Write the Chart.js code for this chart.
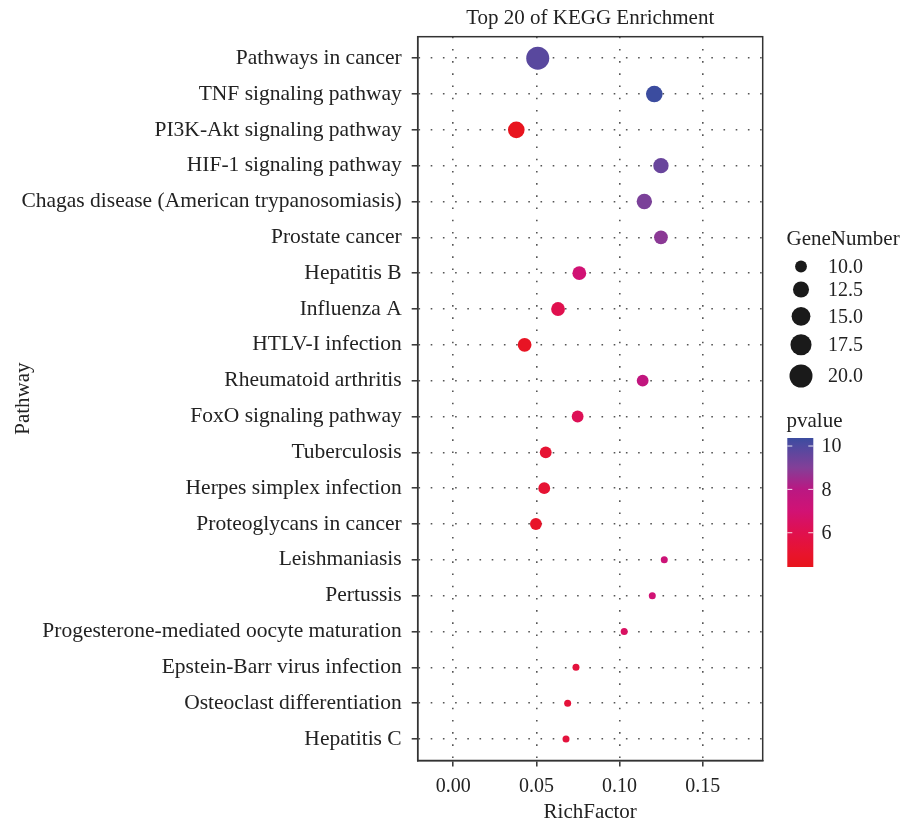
<!DOCTYPE html>
<html><head><meta charset="utf-8">
<script src="https://cdn.jsdelivr.net/npm/chart.js@4.4.1/dist/chart.umd.min.js"></script>
<style>html,body{margin:0;padding:0;background:#fff}canvas{display:block}</style>
</head><body>
<canvas id="c" width="906" height="827"></canvas>
<script>
const pathways = [
  "Pathways in cancer",
  "TNF signaling pathway",
  "PI3K-Akt signaling pathway",
  "HIF-1 signaling pathway",
  "Chagas disease (American trypanosomiasis)",
  "Prostate cancer",
  "Hepatitis B",
  "Influenza A",
  "HTLV-I infection",
  "Rheumatoid arthritis",
  "FoxO signaling pathway",
  "Tuberculosis",
  "Herpes simplex infection",
  "Proteoglycans in cancer",
  "Leishmaniasis",
  "Pertussis",
  "Progesterone-mediated oocyte maturation",
  "Epstein-Barr virus infection",
  "Osteoclast differentiation",
  "Hepatitis C"
];
const richFactor = [0.0508, 0.1209, 0.0379, 0.1249, 0.1149, 0.1249, 0.0758, 0.0630, 0.0429, 0.1139,
                    0.0748, 0.0556, 0.0547, 0.0497, 0.1269, 0.1197, 0.1028, 0.0738, 0.0688, 0.0678];
const geneNumber = [20, 13, 13, 12, 12, 11, 11, 11, 11, 10,
                    10, 10, 10, 10, 9, 9, 9, 9, 9, 9];
const pvalue = [9.8, 10.37, 4.5, 9.5, 9.15, 8.85, 7.0, 6.0, 4.7, 7.7,
                6.2, 5.2, 5.2, 4.9, 7.2, 7.0, 6.5, 5.5, 5.4, 5.5];
const xTicks = [0, 0.05, 0.10, 0.15];
const sizeLegendValues = [10, 12.5, 15, 17.5, 20];
const colorbarTicks = [6, 8, 10];
const pvalueRange = [4.42, 10.37];
const geneRange = [9, 20];

// colour gradient stops (pvalue -> colour)
const colorStops = [
  [4.42, [232, 20, 28]],
  [5.0, [232, 20, 44]],
  [6.0, [224, 16, 78]],
  [7.0, [209, 18, 116]],
  [8.0, [186, 24, 130]],
  [9.0, [131, 63, 152]],
  [10.0, [79, 74, 160]],
  [10.37, [59, 76, 159]]
];
function pColor(v) {
  if (v <= colorStops[0][0]) return 'rgb(' + colorStops[0][1].join(',') + ')';
  for (let i = 1; i < colorStops.length; i++) {
    const [v1, c1] = colorStops[i];
    const [v0, c0] = colorStops[i - 1];
    if (v <= v1) {
      const t = (v - v0) / (v1 - v0);
      const c = c0.map((a, k) => Math.round(a + (c1[k] - a) * t));
      return 'rgb(' + c.join(',') + ')';
    }
  }
  return 'rgb(' + colorStops[colorStops.length - 1][1].join(',') + ')';
}
function sizeR(v) {
  const t = Math.max(0, (v - geneRange[0]) / (geneRange[1] - geneRange[0]));
  return 3.5 + 8 * Math.sqrt(t);
}

const FONT = '"Liberation Serif", "DejaVu Serif", serif';
const TXT = '#222';
Chart.defaults.font.family = FONT;
Chart.defaults.color = TXT;

const extras = {
  id: 'extras',
  afterDraw(chart) {
    const ctx = chart.ctx;
    const a = chart.chartArea;
    ctx.save();
    // panel border
    ctx.strokeStyle = '#333';
    ctx.lineWidth = 1.5;
    ctx.strokeRect(a.left, a.top, a.right - a.left, a.bottom - a.top);
    ctx.fillStyle = TXT;
    // title
    ctx.font = '21px ' + FONT;
    ctx.textAlign = 'center';
    ctx.textBaseline = 'alphabetic';
    ctx.fillText('Top 20 of KEGG Enrichment', (a.left + a.right) / 2, 24);
    // x title
    ctx.fillText('RichFactor', (a.left + a.right) / 2, 817.5);
    // y title
    ctx.save();
    ctx.translate(29, (a.top + a.bottom) / 2);
    ctx.rotate(-Math.PI / 2);
    ctx.fillText('Pathway', 0, 0);
    ctx.restore();
    // size legend
    ctx.textAlign = 'left';
    ctx.font = '21px ' + FONT;
    ctx.fillText('GeneNumber', 786.5, 244.5);
    const legY = [266.5, 289.5, 316.3, 344.7, 376];
    ctx.font = '20px ' + FONT;
    sizeLegendValues.forEach((v, i) => {
      ctx.beginPath();
      ctx.fillStyle = '#1a1a1a';
      ctx.arc(801, legY[i], sizeR(v), 0, Math.PI * 2);
      ctx.fill();
      ctx.fillStyle = TXT;
      ctx.textBaseline = 'middle';
      ctx.fillText(v.toFixed(1), 828, legY[i] + 1);
    });
    // colour bar
    ctx.textBaseline = 'alphabetic';
    ctx.font = '21px ' + FONT;
    ctx.fillText('pvalue', 786.5, 427);
    const cbL = 787.3, cbR = 813.3, cbT = 438, cbB = 567;
    const g = ctx.createLinearGradient(0, cbB, 0, cbT);
    colorStops.forEach(([v, c]) => {
      g.addColorStop((v - pvalueRange[0]) / (pvalueRange[1] - pvalueRange[0]), 'rgb(' + c.join(',') + ')');
    });
    ctx.fillStyle = g;
    ctx.fillRect(cbL, cbT, cbR - cbL, cbB - cbT);
    ctx.font = '20px ' + FONT;
    colorbarTicks.forEach(v => {
      const y = cbB - (v - pvalueRange[0]) / (pvalueRange[1] - pvalueRange[0]) * (cbB - cbT);
      ctx.strokeStyle = 'rgba(255,255,255,0.85)';
      ctx.lineWidth = 1;
      ctx.beginPath();
      ctx.moveTo(cbL, y); ctx.lineTo(cbL + 5, y);
      ctx.moveTo(cbR - 5, y); ctx.lineTo(cbR, y);
      ctx.stroke();
      ctx.fillStyle = TXT;
      ctx.textBaseline = 'middle';
      ctx.fillText(String(v), 821.5, y + 1);
    });
    ctx.restore();
  }
};

new Chart(document.getElementById('c'), {
  type: 'scatter',
  data: {
    datasets: [{
      data: pathways.map((p, i) => ({ x: richFactor[i], y: i })),
      pointRadius: c => sizeR(geneNumber[c.dataIndex]),
      pointBackgroundColor: c => pColor(pvalue[c.dataIndex]),
      pointBorderWidth: 0,
      pointHoverRadius: c => sizeR(geneNumber[c.dataIndex])
    }]
  },
  options: {
    responsive: false,
    animation: false,
    events: [],
    layout: { padding: { left: 0, top: 36.7, right: 143.3, bottom: 0 } },
    plugins: { legend: { display: false }, tooltip: { enabled: false }, title: { display: false } },
    scales: {
      x: {
        type: 'linear',
        min: -0.0214, max: 0.1861,
        afterBuildTicks: s => { s.ticks = xTicks.map(v => ({ value: v })); },
        afterFit: s => { s.height = 827 - 760.5; },
        ticks: { callback: v => Number(v).toFixed(2), font: { size: 20 }, color: TXT, padding: 8, autoSkip: false, maxRotation: 0 },
        grid: { color: '#555', lineWidth: 1.6, drawTicks: true, tickLength: 6, tickColor: '#333', tickWidth: 1.5 },
        border: { display: true, color: '#333', width: 1.5, dash: [1.6, 10.6] }
      },
      y: {
        type: 'linear',
        reverse: true,
        min: -0.6, max: 19.6,
        afterBuildTicks: s => { s.ticks = pathways.map((p, i) => ({ value: i })); },
        afterFit: s => { s.width = 417.7; },
        ticks: { callback: (v) => pathways[v], font: { size: 21.5 }, color: TXT, padding: 10, autoSkip: false },
        grid: { color: '#555', lineWidth: 1.6, drawTicks: true, tickLength: 6, tickColor: '#333', tickWidth: 1.5 },
        border: { display: true, color: '#333', width: 1.5, dash: [1.6, 10.6] }
      }
    }
  },
  plugins: [extras]
});
</script>
</body></html>
